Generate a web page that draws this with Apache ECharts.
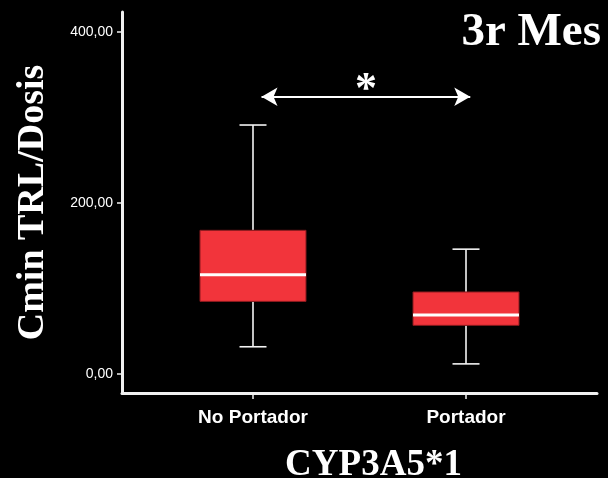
<!DOCTYPE html>
<html>
<head>
<meta charset="utf-8">
<script src="https://cdn.jsdelivr.net/npm/echarts@6/dist/echarts.min.js"></script>
<style>
  html, body { margin: 0; padding: 0; background: #000; }
  #chart { width: 608px; height: 478px; }
</style>
</head>
<body>
<div id="chart"></div>
<script>
// datos
const categories = ['No Portador', 'Portador']
const whiskerLow = [32, 12]
const q1 = [85, 57]
const median = [116, 69]
const q3 = [168, 96]
const whiskerHigh = [291, 146]
const yTicks = [0, 200, 400]
// flecha de significación (en unidades de eje)
const arrowX = [0.04, 1.02]
const arrowY = 324

const boxData = categories.map((c, i) => [i, whiskerLow[i], q1[i], median[i], q3[i], whiskerHigh[i]])

const chart = echarts.init(document.getElementById('chart'))

function renderBox (params, api) {
  const x = api.value(0)
  const pLow = api.coord([x, api.value(1)])
  const pQ1 = api.coord([x, api.value(2)])
  const pMed = api.coord([x, api.value(3)])
  const pQ3 = api.coord([x, api.value(4)])
  const pHigh = api.coord([x, api.value(5)])
  const halfW = 53
  const cap = 13.5
  const cx = pMed[0]
  const white = { stroke: '#f4f4f4', lineWidth: 1.6 }
  return {
    type: 'group',
    children: [
      { type: 'line', shape: { x1: cx, y1: pHigh[1], x2: cx, y2: pQ3[1] }, style: white },
      { type: 'line', shape: { x1: cx - cap, y1: pHigh[1], x2: cx + cap, y2: pHigh[1] }, style: white },
      { type: 'line', shape: { x1: cx, y1: pQ1[1], x2: cx, y2: pLow[1] }, style: white },
      { type: 'line', shape: { x1: cx - cap, y1: pLow[1], x2: cx + cap, y2: pLow[1] }, style: white },
      {
        type: 'rect',
        shape: { x: cx - halfW, y: pQ3[1], width: halfW * 2, height: pQ1[1] - pQ3[1] },
        style: { fill: '#f2343b', stroke: '#8a1a1e', lineWidth: 1 }
      },
      { type: 'line', shape: { x1: cx - halfW, y1: pMed[1], x2: cx + halfW, y2: pMed[1] }, style: { stroke: '#ffffff', lineWidth: 3 } }
    ]
  }
}

const option = {
  backgroundColor: '#000000',
  animation: false,
  title: {
    text: '3r Mes',
    right: 2,
    top: 4,
    textStyle: { color: '#ffffff', fontFamily: 'Liberation Serif', fontWeight: 'bold', fontSize: 47 }
  },
  grid: { left: 122, right: 11, top: 12, bottom: 85, containLabel: false, outerBoundsMode: 'none' },
  xAxis: {
    type: 'value',
    min: -0.615,
    max: 1.615,
    name: 'CYP3A5*1',
    nameLocation: 'middle',
    nameGap: 54,
    nameTextStyle: {
      color: '#ffffff',
      fontFamily: 'Liberation Serif',
      fontWeight: 'bold',
      fontSize: 37,
      padding: [0, 0, 0, 28]
    },
    splitLine: { show: false },
    axisLine: { onZero: false, lineStyle: { color: '#f0f0f0', width: 3 } },
    axisTick: { show: true, customValues: [0, 1], length: 6, lineStyle: { color: '#f0f0f0', width: 1.5 } },
    axisLabel: {
      customValues: [0, 1],
      formatter: v => categories[Math.round(v)],
      color: '#ffffff',
      fontFamily: 'Liberation Sans',
      fontWeight: 'bold',
      fontSize: 19,
      margin: 15
    }
  },
  yAxis: {
    type: 'value',
    min: -22,
    max: 423,
    name: 'Cmin TRL/Dosis',
    nameLocation: 'middle',
    nameGap: 70,
    nameRotate: 90,
    nameTextStyle: { color: '#ffffff', fontFamily: 'Liberation Serif', fontWeight: 'bold', fontSize: 38 },
    splitLine: { show: false },
    axisLine: { show: true, onZero: false, lineStyle: { color: '#f0f0f0', width: 3 } },
    axisTick: { show: true, customValues: yTicks, length: 5, lineStyle: { color: '#f0f0f0', width: 1.5 } },
    axisLabel: {
      customValues: yTicks,
      formatter: v => v.toFixed(2).replace('.', ','),
      color: '#ffffff',
      fontFamily: 'Liberation Sans',
      fontSize: 14,
      margin: 9
    }
  },
  series: [
    {
      type: 'custom',
      renderItem: renderBox,
      data: boxData,
      encode: { x: 0, y: [1, 2, 3, 4, 5] }
    },
    {
      type: 'line',
      data: [],
      markLine: {
        silent: true,
        symbol: ['arrow', 'arrow'],
        symbolSize: [14, 16],
        lineStyle: { color: '#ffffff', type: 'solid', width: 2 },
        label: {
          show: true,
          position: 'middle',
          formatter: '*',
          color: '#ffffff',
          fontFamily: 'Liberation Serif',
          fontWeight: 'bold',
          fontSize: 44,
          distance: 0,
          offset: [0, 16]
        },
        data: [[{ coord: [arrowX[0], arrowY] }, { coord: [arrowX[1], arrowY] }]]
      }
    }
  ]
}

chart.setOption(option)
</script>
</body>
</html>
